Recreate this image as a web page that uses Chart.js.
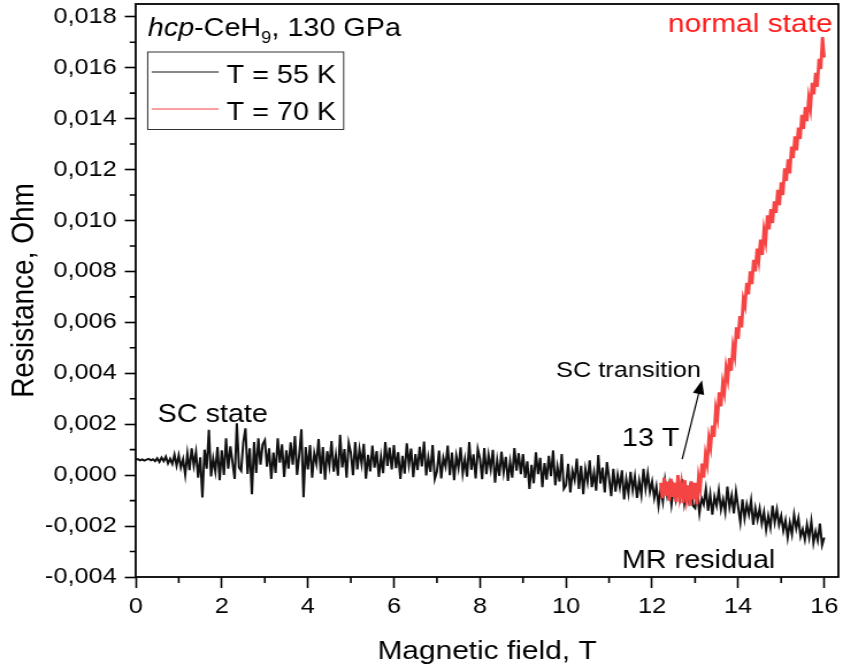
<!DOCTYPE html>
<html>
<head>
<meta charset="utf-8">
<title>hcp-CeH9, 130 GPa: resistance vs magnetic field</title>
<script src="https://cdn.jsdelivr.net/npm/chart.js@4/dist/chart.umd.min.js"></script>
<style>
  html, body { margin: 0; padding: 0; background: #fff; }
  canvas { display: block; }
</style>
</head>
<body>
<!-- lettering in this figure is set wide: the canvas is drawn 733 px across and widened to 843 px by CSS -->
<canvas id="resistanceChart" width="733" height="672" style="width:843px;height:672px"></canvas>
<script>
const FONT = "'Liberation Sans', Arial, sans-serif";

// T = 55 K sweep: field (T) and resistance (mOhm)
const field55 = [
  0, 0.05, 0.1, 0.15, 0.2, 0.25, 0.3, 0.35, 0.4, 0.45, 0.5, 0.55, 0.6, 0.65, 0.7, 0.75, 0.8, 0.85, 0.9, 0.95,
  1, 1.05, 1.1, 1.15, 1.2, 1.25, 1.3, 1.35, 1.4, 1.45, 1.5, 1.55, 1.6, 1.65, 1.7, 1.75, 1.8, 1.85, 1.9, 1.95,
  2, 2.05, 2.1, 2.15, 2.2, 2.25, 2.3, 2.35, 2.4, 2.45, 2.5, 2.55, 2.6, 2.65, 2.7, 2.75, 2.8, 2.85, 2.9, 2.95,
  3, 3.05, 3.1, 3.15, 3.2, 3.25, 3.3, 3.35, 3.4, 3.45, 3.5, 3.55, 3.6, 3.65, 3.7, 3.75, 3.8, 3.85, 3.9, 3.95,
  4, 4.05, 4.1, 4.15, 4.2, 4.25, 4.3, 4.35, 4.4, 4.45, 4.5, 4.55, 4.6, 4.65, 4.7, 4.75, 4.8, 4.85, 4.9, 4.95,
  5, 5.05, 5.1, 5.15, 5.2, 5.25, 5.3, 5.35, 5.4, 5.45, 5.5, 5.55, 5.6, 5.65, 5.7, 5.75, 5.8, 5.85, 5.9, 5.95,
  6, 6.05, 6.1, 6.15, 6.2, 6.25, 6.3, 6.35, 6.4, 6.45, 6.5, 6.55, 6.6, 6.65, 6.7, 6.75, 6.8, 6.85, 6.9, 6.95,
  7, 7.05, 7.1, 7.15, 7.2, 7.25, 7.3, 7.35, 7.4, 7.45, 7.5, 7.55, 7.6, 7.65, 7.7, 7.75, 7.8, 7.85, 7.9, 7.95,
  8, 8.05, 8.1, 8.15, 8.2, 8.25, 8.3, 8.35, 8.4, 8.45, 8.5, 8.55, 8.6, 8.65, 8.7, 8.75, 8.8, 8.85, 8.9, 8.95,
  9, 9.05, 9.1, 9.15, 9.2, 9.25, 9.3, 9.35, 9.4, 9.45, 9.5, 9.55, 9.6, 9.65, 9.7, 9.75, 9.8, 9.85, 9.9, 9.95,
  10, 10.05, 10.1, 10.15, 10.2, 10.25, 10.3, 10.35, 10.4, 10.45, 10.5, 10.55, 10.6, 10.65, 10.7, 10.75, 10.8, 10.85, 10.9, 10.95,
  11, 11.05, 11.1, 11.15, 11.2, 11.25, 11.3, 11.35, 11.4, 11.45, 11.5, 11.55, 11.6, 11.65, 11.7, 11.75, 11.8, 11.85, 11.9, 11.95,
  12, 12.05, 12.1, 12.15, 12.2, 12.25, 12.3, 12.35, 12.4, 12.45, 12.5, 12.55, 12.6, 12.65, 12.7, 12.75, 12.8, 12.85, 12.9, 12.95,
  13, 13.05, 13.1, 13.15, 13.2, 13.25, 13.3, 13.35, 13.4, 13.45, 13.5, 13.55, 13.6, 13.65, 13.7, 13.75, 13.8, 13.85, 13.9, 13.95,
  14, 14.05, 14.1, 14.15, 14.2, 14.25, 14.3, 14.35, 14.4, 14.45, 14.5, 14.55, 14.6, 14.65, 14.7, 14.75, 14.8, 14.85, 14.9, 14.95,
  15, 15.05, 15.1, 15.15, 15.2, 15.25, 15.3, 15.35, 15.4, 15.45, 15.5, 15.55, 15.6, 15.65, 15.7, 15.75, 15.8, 15.85, 15.9, 15.95,
  16
];
const res55 = [
  0.60, 0.63, 0.58, 0.62, 0.57, 0.61, 0.64, 0.58, 0.62, 0.55, 0.66, 0.52, 0.69, 0.55, 0.73, 0.46, 0.64, 0.44, 0.80, 0.37,
  0.78, 0.30, 0.62, 0.02, 0.85, 0.20, 1.05, 0.38, 0.90, -0.10, 0.70, -0.88, 1.00, 0.25, 1.78, -0.05, 0.65, 0.15, 1.10, -0.20,
  0.97, 0.01, 1.45, 0.25, 1.13, 0.49, -0.15, 2.04, 0.30, 0.17, 1.29, 1.84, 0.05, 1.05, -0.75, 1.30, 0.09, 1.45, 0.41, 1.21,
  1.37, 0.33, 1.05, -0.15, 0.89, 0.09, 1.45, 0.49, 1.21, -0.07, 0.97, 0.25, 1.29, 0.41, 1.53, 0.01, 0.81, 1.80, -0.87, 1.10,
  0.22, 1.18, -0.10, 0.86, 0.46, 1.42, 0.06, 1.10, -0.18, 0.94, 0.38, 1.34, 0.14, 0.78, -0.02, 1.58, 0.30, 1.02, -0.10, 1.26,
  0.87, 0.00, 1.30, 0.22, 1.01, 0.44, 1.23, -0.14, 0.80, 0.15, 1.16, 0.29, 0.94, -0.07, 0.72, 0.08, 1.30, 0.36, 1.08, 0.22,
  1.18, 0.27, 0.90, -0.15, 0.76, 0.06, 1.25, 0.41, 1.04, -0.08, 0.83, 0.20, 1.11, 0.34, 1.32, -0.01, 0.69, 0.13, 1.18, -0.15,
  0.14, 0.96, -0.13, 0.68, 0.34, 1.16, 0.00, 0.89, -0.20, 0.75, 0.28, 1.09, 0.07, 0.62, -0.06, 1.30, 0.21, 0.82, -0.13, 1.02,
  0.65, -0.16, 1.06, 0.04, 0.79, 0.24, 0.99, -0.30, 0.58, -0.03, 0.92, 0.11, 0.72, -0.23, 0.52, -0.10, 1.06, 0.18, 0.86, 0.04,
  0.83, -0.11, 0.54, -0.54, 0.40, -0.32, 0.90, 0.04, 0.68, -0.47, 0.47, -0.18, 0.76, -0.04, 0.97, -0.40, 0.32, -0.25, 0.83, -0.54,
  -0.40, 0.44, -0.68, 0.16, -0.19, 0.65, -0.54, 0.37, -0.75, 0.23, -0.26, 0.58, -0.47, 0.09, -0.61, 0.79, -0.33, 0.30, -0.68, 0.51,
  -0.11, -0.83, 0.25, -0.65, 0.01, -0.47, 0.19, -0.95, -0.17, -0.71, 0.13, -0.59, -0.05, -0.89, -0.23, -0.77, 0.25, -0.53, 0.07, -0.65,
  -0.25, -0.90, -0.45, -1.20, -0.55, -1.05, -0.20, -0.80, -0.35, -1.15, -0.50, -0.95, -0.30, -0.85, -0.15, -1.10, -0.60, -1.00, -0.25, -1.20,
  -1.30, -0.70, -1.50, -0.90, -1.15, -0.55, -1.40, -0.75, -1.55, -0.85, -1.20, -0.60, -1.35, -0.95, -1.45, -0.45, -1.25, -0.80, -1.50, -0.65,
  -1.25, -1.85, -0.95, -1.70, -1.15, -1.55, -1.00, -1.95, -1.30, -1.75, -1.30, -1.90, -1.45, -2.15, -1.60, -2.05, -1.20, -1.85, -1.35, -1.95,
  -1.60, -2.18, -1.78, -2.45, -1.87, -2.32, -1.55, -2.09, -1.69, -2.41, -2.12, -2.53, -1.94, -2.44, -1.81, -2.66, -2.21, -2.57, -1.90, -2.75,
  -2.45
];

// T = 70 K sweep: field (T) and resistance (mOhm)
const field70 = [
  12.2, 12.24, 12.28, 12.32, 12.36, 12.4, 12.44, 12.48, 12.52, 12.56,
  12.6, 12.64, 12.68, 12.72, 12.76, 12.8, 12.84, 12.88, 12.92, 12.96,
  13, 13.04, 13.08, 13.12, 13.16, 13.2, 13.24, 13.28, 13.32, 13.36,
  13.4, 13.44, 13.48, 13.52, 13.56, 13.6, 13.64, 13.68, 13.72, 13.76,
  13.8, 13.84, 13.88, 13.92, 13.96, 14, 14.04, 14.08, 14.12, 14.16,
  14.2, 14.24, 14.28, 14.32, 14.36, 14.4, 14.44, 14.48, 14.52, 14.56,
  14.6, 14.64, 14.68, 14.72, 14.76, 14.8, 14.84, 14.88, 14.92, 14.96,
  15, 15.04, 15.08, 15.12, 15.16, 15.2, 15.24, 15.28, 15.32, 15.36,
  15.4, 15.44, 15.48, 15.52, 15.56, 15.6, 15.64, 15.68, 15.72, 15.76,
  15.8, 15.84, 15.88, 15.92, 15.96, 16
];
const res70 = [
  -0.30, -0.90, -0.10, -0.80, -0.25, -1.00, -0.15, -0.85, -0.30, -1.05,
  0.00, -0.80, -0.35, -1.10, -0.20, -0.90, -0.40, -1.20, -0.25, -0.95,
  -0.30, -1.15, -0.10, -0.50, 0.45, -0.10, 0.80, 0.45, 1.45, 1.10,
  1.95, 1.50, 2.60, 2.25, 3.25, 2.70, 3.60, 3.25, 4.20, 3.80,
  4.60, 4.10, 5.05, 4.70, 5.80, 5.35, 6.25, 5.80, 6.90, 6.65,
  7.55, 7.10, 8.00, 7.50, 8.45, 8.00, 8.90, 8.45, 9.25, 8.65,
  9.60, 9.20, 10.20, 9.65, 10.45, 9.90, 10.75, 10.30, 11.20, 10.60,
  11.50, 11.00, 12.05, 11.55, 12.40, 11.85, 12.90, 12.45, 13.30, 12.75,
  13.65, 13.20, 14.15, 13.60, 14.45, 13.90, 14.80, 14.40, 15.40, 14.95,
  15.80, 15.25, 16.35, 15.95, 17.20, 16.40
];

const seriesLabels = ['T = 55 K', 'T = 70 K'];
const seriesColors = ['#111111', '#f54444'];

const xTicks = [0, 2, 4, 6, 8, 10, 12, 14, 16];
const xMinorTicks = [1, 3, 5, 7, 9, 11, 13, 15];
const yTicks = [-0.004, -0.002, 0, 0.002, 0.004, 0.006, 0.008, 0.010, 0.012, 0.014, 0.016, 0.018];
const yMinorTicks = [-0.003, -0.001, 0.001, 0.003, 0.005, 0.007, 0.009, 0.011, 0.013, 0.015, 0.017];

// text placed on the plot, anchored in data units (left edge, baseline)
const notes = [
  { text: 'normal state', x: 12.37, y: 0.0174, size: 26, color: '#ff1a1a' },
  { text: 'SC transition', x: 9.77, y: 0.00386, size: 22, color: '#000' },
  { text: '13 T', x: 11.30, y: 0.00115, size: 25, color: '#000' },
  { text: 'SC state', x: 0.51, y: 0.00208, size: 25, color: '#000' },
  { text: 'MR residual', x: 11.30, y: -0.00363, size: 25, color: '#000' },
];
const arrowFrom = { x: 12.70, y: 0.00063 };
const arrowTo = { x: 13.16, y: 0.00373 };
const headingAt = { x: 0.28, y: 0.01725 };

function toPoints(fields, milliOhms) {
  return fields.map((b, i) => ({ x: b, y: milliOhms[i] / 1000 }));
}

function drawArrow(ctx, x0, y0, x1, y1) {
  const ang = Math.atan2(y1 - y0, x1 - x0);
  const len = 14;
  const half = 5;
  const bx = x1 - len * Math.cos(ang);
  const by = y1 - len * Math.sin(ang);
  ctx.beginPath();
  ctx.moveTo(x0, y0);
  ctx.lineTo(bx, by);
  ctx.stroke();
  ctx.beginPath();
  ctx.moveTo(x1, y1);
  ctx.lineTo(bx + half * Math.sin(ang), by - half * Math.cos(ang));
  ctx.lineTo(bx - half * Math.sin(ang), by + half * Math.cos(ang));
  ctx.closePath();
  ctx.fill();
}

// frame, minor ticks, legend box and the lettering on the plot
const decorations = {
  id: 'decorations',
  afterDraw(chart) {
    const { ctx, chartArea: area, scales } = chart;
    const sx = scales.x;
    const sy = scales.y;
    ctx.save();

    ctx.strokeStyle = '#000';
    ctx.lineWidth = 1.8;
    ctx.strokeRect(area.left, area.top, area.right - area.left, area.bottom - area.top);

    ctx.lineWidth = 1.6;
    ctx.beginPath();
    xMinorTicks.forEach((v) => {
      const px = sx.getPixelForValue(v);
      ctx.moveTo(px, area.bottom);
      ctx.lineTo(px, area.bottom + 6);
    });
    yMinorTicks.forEach((v) => {
      const py = sy.getPixelForValue(v);
      ctx.moveTo(area.left, py);
      ctx.lineTo(area.left - 5.2, py);
    });
    ctx.stroke();

    // legend
    const boxLeft = area.left + 10.4;
    const boxTop = area.top + 48;
    ctx.lineWidth = 1;
    ctx.strokeStyle = '#333';
    ctx.strokeRect(boxLeft, boxTop, 170.4, 77.5);
    ctx.font = `25px ${FONT}`;
    ctx.textBaseline = 'alphabetic';
    ctx.textAlign = 'left';
    chart.data.datasets.forEach((ds, i) => {
      const rowY = boxTop + 20 + i * 37;
      ctx.strokeStyle = ds.borderColor;
      ctx.lineWidth = 1.2;
      ctx.beginPath();
      ctx.moveTo(boxLeft + 3.5, rowY);
      ctx.lineTo(boxLeft + 61.7, rowY);
      ctx.stroke();
      ctx.fillStyle = '#000';
      ctx.fillText(ds.label, boxLeft + 68.7, rowY + 11);
    });

    // sample heading: hcp-CeH9, 130 GPa
    let hx = sx.getPixelForValue(headingAt.x);
    const hy = sy.getPixelForValue(headingAt.y);
    ctx.fillStyle = '#000';
    ctx.font = `italic 25px ${FONT}`;
    ctx.fillText('hcp', hx, hy);
    hx += ctx.measureText('hcp').width;
    ctx.font = `25px ${FONT}`;
    ctx.fillText('-CeH', hx, hy);
    hx += ctx.measureText('-CeH').width;
    ctx.font = `16px ${FONT}`;
    ctx.fillText('9', hx, hy + 7);
    hx += ctx.measureText('9').width;
    ctx.font = `25px ${FONT}`;
    ctx.fillText(', 130 GPa', hx, hy);

    notes.forEach((n) => {
      ctx.font = `${n.size}px ${FONT}`;
      ctx.fillStyle = n.color;
      ctx.fillText(n.text, sx.getPixelForValue(n.x), sy.getPixelForValue(n.y));
    });

    ctx.strokeStyle = '#000';
    ctx.fillStyle = '#000';
    ctx.lineWidth = 1.2;
    drawArrow(ctx,
      sx.getPixelForValue(arrowFrom.x), sy.getPixelForValue(arrowFrom.y),
      sx.getPixelForValue(arrowTo.x), sy.getPixelForValue(arrowTo.y));

    ctx.restore();
  },
};

const ctx = document.getElementById('resistanceChart');
const resistanceChart = new Chart(ctx, {
  type: 'line',
  data: {
    datasets: [
      {
        label: seriesLabels[0],
        data: toPoints(field55, res55),
        borderColor: seriesColors[0],
        borderWidth: 2,
        order: 2,
      },
      {
        label: seriesLabels[1],
        data: toPoints(field70, res70),
        borderColor: seriesColors[1],
        borderWidth: 2.8,
        order: 1,
      },
    ],
  },
  options: {
    responsive: false,
    devicePixelRatio: 1,
    animation: false,
    layout: { padding: { top: 4, right: 4, left: 0, bottom: 0 } },
    elements: {
      point: { radius: 0 },
      line: { tension: 0, fill: false },
    },
    plugins: {
      legend: { display: false },
      tooltip: { enabled: false },
    },
    scales: {
      x: {
        type: 'linear',
        min: 0,
        max: 16.33,
        afterFit: (scale) => {
          scale.height = 95;
          scale.paddingLeft = 0;
          scale.paddingRight = 0;
        },
        afterBuildTicks: (scale) => { scale.ticks = xTicks.map(v => ({ value: v })); },
        border: { display: false },
        grid: {
          drawOnChartArea: false,
          drawTicks: true,
          tickLength: 11,
          tickWidth: 1.6,
          tickColor: '#000',
        },
        ticks: {
          color: '#000',
          font: { family: FONT, size: 22 },
          padding: 6,
          maxRotation: 0,
          autoSkip: false,
          callback: v => String(v),
        },
        title: {
          display: true,
          text: 'Magnetic field, T',
          color: '#000',
          font: { family: FONT, size: 26 },
          padding: { top: 0, bottom: 5 },
        },
      },
      y: {
        min: -0.004,
        max: 0.0185,
        afterFit: (scale) => {
          scale.width = 118;
          scale.paddingTop = 0;
          scale.paddingBottom = 0;
        },
        afterBuildTicks: (scale) => { scale.ticks = yTicks.map(v => ({ value: v })); },
        border: { display: false },
        grid: {
          drawOnChartArea: false,
          drawTicks: true,
          tickLength: 9.5,
          tickWidth: 1.6,
          tickColor: '#000',
        },
        ticks: {
          color: '#000',
          font: { family: FONT, size: 22 },
          padding: 7,
          autoSkip: false,
          callback: v => v.toFixed(3).replace('.', ','),
        },
        title: {
          display: true,
          text: 'Resistance, Ohm',
          color: '#000',
          font: { family: FONT, size: 28 },
          padding: { top: 4, bottom: 0 },
        },
      },
    },
  },
  plugins: [decorations],
});
</script>
</body>
</html>
